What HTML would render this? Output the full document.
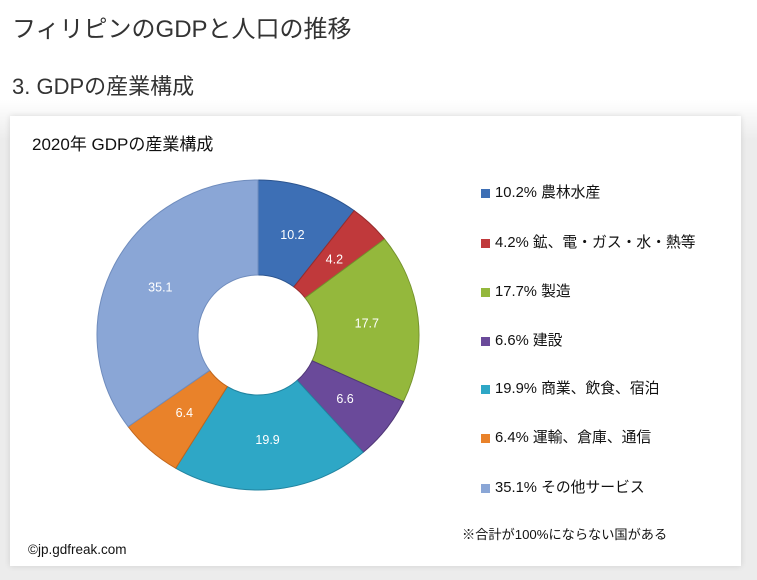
<!DOCTYPE html>
<html><head><meta charset="utf-8"><style>
body{margin:0;width:757px;height:580px;background:#fff;font-family:"Liberation Sans","Noto Sans CJK JP",sans-serif;overflow:hidden;position:relative;color:#333}
.t{position:absolute;white-space:nowrap}
#bg{position:absolute;left:0;top:100px;width:757px;height:480px;background:linear-gradient(#fff,#ececec 40px)}
#card{position:absolute;left:10px;top:116px;width:731px;height:450px;background:#fff;box-shadow:0 0 6px rgba(0,0,0,.12)}
.lg{position:absolute;left:481px;font-size:14.8px;color:#111;white-space:nowrap}
.lg i{display:inline-block;width:9px;height:9px;margin-right:5px;vertical-align:-1px}
</style></head><body>
<div id="bg"></div>
<div class="t" style="left:12px;top:9px;font-size:24px;color:#333">フィリピンのGDPと人口の推移</div>
<div class="t" style="left:12px;top:69px;font-size:22px;color:#333">3. GDPの産業構成</div>
<div id="card"></div>
<div class="t" style="left:32px;top:130px;font-size:17px;color:#111">2020年 GDPの産業構成</div>
<svg id="s" width="757" height="580" style="position:absolute;left:0;top:0"></svg>
<div class="lg" style="top:181px"><i style="background:#3d6fb5"></i>10.2% 農林水産</div>
<div class="lg" style="top:231px"><i style="background:#c0393b"></i>4.2% 鉱、電・ガス・水・熱等</div>
<div class="lg" style="top:280px"><i style="background:#94b83c"></i>17.7% 製造</div>
<div class="lg" style="top:329px"><i style="background:#6a4a9a"></i>6.6% 建設</div>
<div class="lg" style="top:377px"><i style="background:#2ea7c6"></i>19.9% 商業、飲食、宿泊</div>
<div class="lg" style="top:426px"><i style="background:#e9822a"></i>6.4% 運輸、倉庫、通信</div>
<div class="lg" style="top:476px"><i style="background:#8aa6d6"></i>35.1% その他サービス</div>
<div class="t" style="left:462px;top:524px;font-size:13.2px;color:#111">※合計が100%にならない国がある</div>
<div class="t" style="left:28px;top:542px;font-size:13.5px;color:#111">©jp.gdfreak.com</div>
<script>
var d=[[10.2,"#3d6fb5","#2c5590"],[4.2,"#c0393b","#962c2d"],[17.7,"#94b83c","#74922c"],[6.6,"#6a4a9a","#503776"],[19.9,"#2ea7c6","#2184a0"],[6.4,"#e9822a","#c0651b"],[35.1,"#8aa6d6","#6f8cbd"]];
var tot=100.1,cx=258,cy=335,rx=161,ry=155,ir=60,a=0,h="";
d.forEach(function(e){var a0=a/tot*2*Math.PI;a+=e[0];var a1=a/tot*2*Math.PI;var lg=(a1-a0)>Math.PI?1:0;
var o0=[cx+rx*Math.sin(a0),cy-ry*Math.cos(a0)],o1=[cx+rx*Math.sin(a1),cy-ry*Math.cos(a1)];
var i0=[cx+ir*Math.sin(a0),cy-ir*Math.cos(a0)],i1=[cx+ir*Math.sin(a1),cy-ir*Math.cos(a1)];
h+='<path d="M'+o0+' A'+rx+' '+ry+' 0 '+lg+' 1 '+o1+' L'+i1+' A'+ir+' '+ir+' 0 '+lg+' 0 '+i0+'Z" fill="'+e[1]+'" stroke="'+e[2]+'" stroke-width="1"/>';
var m=(a0+a1)/2,lr=0.68;h+='<text x="'+(cx+rx*lr*Math.sin(m))+'" y="'+(cy-ry*lr*Math.cos(m)+4)+'" fill="#fff" font-size="12.5" text-anchor="middle" font-family="Liberation Sans,sans-serif">'+e[0]+'</text>';});
document.getElementById("s").innerHTML=h;
</script>
</body></html>
